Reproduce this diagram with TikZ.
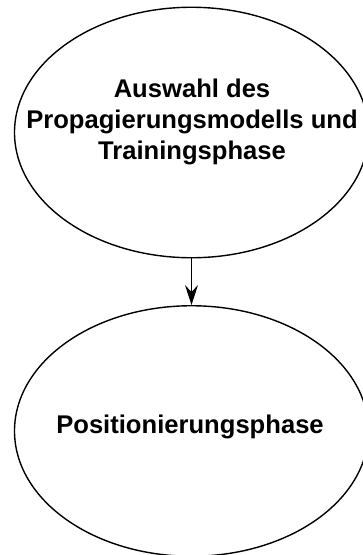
\documentclass[tikz,border=0pt]{standalone}
\usepackage{fontspec}
\setmainfont{Liberation Sans}
\usetikzlibrary{shapes.geometric,arrows.meta}
\begin{document}
\begin{tikzpicture}[x=1pt,y=-1pt,
  phase/.style={draw=black,line width=1.4pt,ellipse,inner sep=0pt,
    minimum width=354pt,minimum height=250.5pt},
  phasetext/.style={inner sep=0pt,font=\fontsize{25.6pt}{31pt}\selectfont\bfseries,align=center},
  conn/.style={line width=1.4pt,-{Stealth[length=20pt,width=13pt,inset=7pt]}}]
\useasboundingbox (0,0) rectangle (362,555);
\node[phase] (a) at (191.5,132.5) {};
\node[phase] (b) at (191.5,431) {};
\node[phasetext] (at) at (192,122) {Auswahl des\\Propagierungsmodells und\\Trainingsphase};
\node[phasetext] (bt) at (190,427) {Positionierungsphase};
\draw[conn] (a) -- (b);
\end{tikzpicture}
\end{document}
